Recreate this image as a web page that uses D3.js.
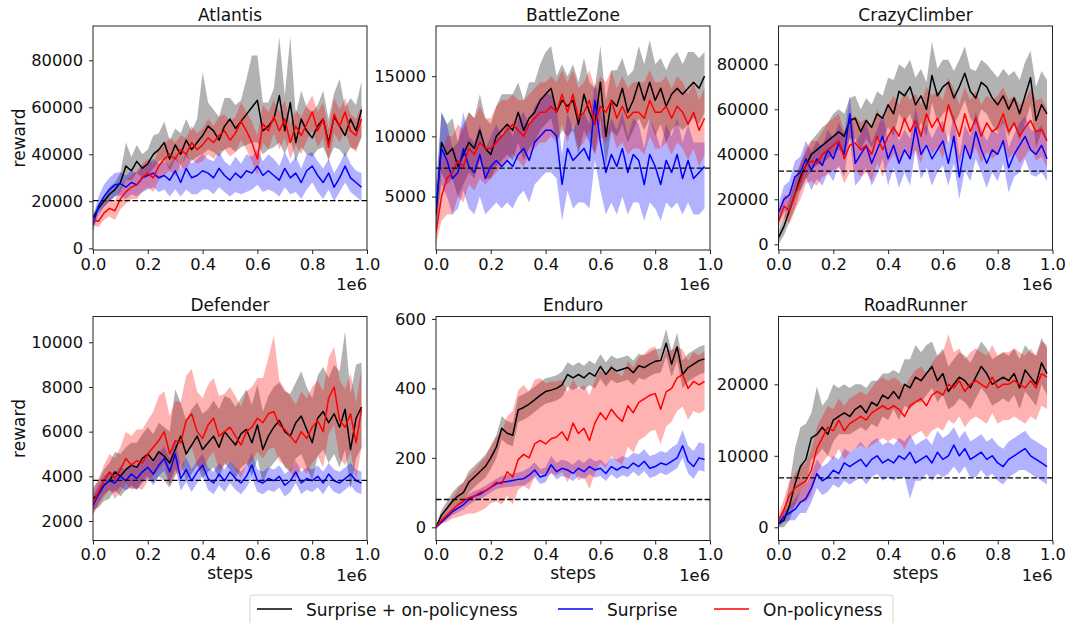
<!DOCTYPE html>
<html><head><meta charset="utf-8">
<script src="https://cdn.jsdelivr.net/npm/d3@7"></script>
<style>body{margin:0;background:#fff}svg{display:block;font-family:"DejaVu Sans",sans-serif}</style>
</head><body><svg id="chart" width="1072" height="623"></svg>
<script>
// ---------- data ----------
const steps = d3.range(50).map(i => i * 20000);
const games = ["Atlantis", "BattleZone", "CrazyClimber", "Defender", "Enduro", "RoadRunner"];
const seriesNames = ["Surprise + on-policyness", "Surprise", "On-policyness"];
const seriesColors = ["#000000", "#0000ff", "#ff0000"];
const baselines = [20300, 7360, 32500, 3820, 80, 6900];
const yTickValues = [
  [0, 20000, 40000, 60000, 80000],
  [5000, 10000, 15000],
  [0, 20000, 40000, 60000, 80000],
  [2000, 4000, 6000, 8000, 10000],
  [0, 200, 400, 600],
  [0, 10000, 20000]
];
const yDomains = [[-720, 94600], [560, 19167], [-2530, 97020], [1127, 11155], [-38, 607], [-1846, 29483]];
const xTickValues = [0, 200000, 400000, 600000, 800000, 1000000];

// Atlantis
const atlSO = [13000,17000,20000,23000,25000,28000,35000,33000,37000,34000,36000,40000,42000,45000,38000,44000,40000,46000,42000,45000,48000,52000,50000,46000,52000,55000,51000,54000,57000,60000,63000,50000,52000,55000,65000,50000,62000,45000,55000,50000,47000,52000,55000,45000,56000,52000,48000,55000,50000,59000];
const atlSOUp = [1500,2000,2500,3000,3000,4000,10000,6000,7000,6000,6000,8000,7000,9000,8000,7000,9000,9000,8000,10000,27000,10000,9000,10000,12000,9000,10000,9000,15000,22000,19000,12000,10000,13000,25000,15000,28000,12000,12000,10000,11000,9000,12000,10000,10000,20000,12000,9000,11000,12000];
const atlSODn = [1500,2000,2500,3000,3000,4000,6000,4000,5000,4000,5000,6000,5000,7000,5000,6000,5000,7000,5000,6000,8000,10000,9000,7000,10000,12000,10000,11000,13000,15000,18000,10000,10000,12000,20000,10000,15000,8000,12000,10000,8000,10000,12000,7000,13000,10000,9000,12000,8000,12000];
const atlS = [10000,18000,22000,25000,27000,27500,26000,28000,27000,30000,31000,32000,30000,31000,29000,33000,28000,34000,30000,31000,33000,32000,30000,34000,31000,29000,32000,30000,33000,32000,35000,31000,33000,31000,29000,34000,30000,32000,28000,33000,35000,31000,28000,32000,26000,30000,35000,30000,28000,26000];
const atlSUp = [3000,4000,5000,5000,5000,5000,5000,5000,5000,5000,5000,6000,6000,6000,6000,7000,6000,7000,6000,7000,7000,6000,7000,7000,6000,6000,7000,6000,7000,7000,7000,6000,7000,7000,6000,7000,6000,7000,6000,7000,6000,6000,6000,6000,6000,6000,6000,6000,5000,6000];
const atlSDn = [3000,4000,4000,5000,5000,5000,5000,5000,5000,6000,6000,6000,6000,6000,7000,8000,6000,9000,7000,8000,8000,7000,7000,8000,7000,7000,8000,7000,9000,7000,8000,7000,8000,7000,7000,8000,7000,8000,7000,8000,7000,7000,7000,7000,6000,6000,7000,6000,6000,6000];
const atlO = [12000,11500,15000,17000,16000,21000,24000,26000,27000,30000,32000,30000,35000,38000,40000,38000,42000,40000,45000,42000,44000,47000,45000,48000,50000,46000,49000,54000,50000,45000,38000,53000,50000,56000,50000,55000,45000,52000,48000,53000,58000,50000,55000,43000,57000,52000,58000,50000,48000,55000];
const atlOUp = [2000,3000,3500,4000,4000,5000,5000,5000,6000,6000,6000,6000,7000,6000,7000,7000,6000,7000,7000,7000,7000,8000,7000,8000,7000,8000,7000,8000,8000,9000,10000,8000,8000,7000,8000,8000,8000,7000,8000,8000,7000,8000,7000,8000,7000,7000,6000,7000,7000,6000];
const atlODn = [2000,2500,3000,3500,4000,4500,5000,5000,6000,6000,6000,6000,6000,7000,7000,7000,7000,7000,7000,6000,7000,7000,7000,7000,8000,7000,8000,8000,8000,8000,7000,8000,8000,7000,8000,8000,7000,8000,8000,7000,8000,7000,8000,7000,8000,7000,8000,7000,7000,7000];

// BattleZone
const bzSO = [3500,9500,8500,9000,7500,8500,9500,9000,10500,9000,8500,10000,10500,11000,10500,12000,10500,11500,12000,13000,13500,14000,12000,13000,12500,13000,11000,13500,12000,11000,14500,10000,13000,12500,14000,12000,13000,14500,13000,14500,13000,14000,12500,13500,14000,13500,14000,14500,14000,15000];
const bzSOUp = [1500,2500,2500,2500,2000,2500,2500,2500,3000,2500,2500,2500,3000,2500,3000,2500,2500,3000,2500,3000,3500,3500,3000,3000,2500,3000,3500,3000,2500,3000,3000,3000,2500,3000,2500,3000,2500,3000,3000,3500,3000,2500,3000,3000,3000,2500,3000,2500,2500,2000];
const bzSODn = [1500,2500,2500,2500,2500,2500,2500,2500,2500,2500,2000,2500,2500,2500,2500,2500,2500,2500,2500,2500,2500,2500,2500,2500,2500,2500,2500,3000,2500,2500,3000,2500,2500,2500,3000,2500,2500,3000,2500,3000,3000,3000,3000,3000,3000,3000,3000,3000,3000,3000];
const bzS = [4000,9000,8000,6500,7000,9000,7500,7000,8500,6500,7500,8000,7500,8000,7500,8500,9000,8000,9500,10000,10500,10500,10000,6000,9000,8000,8500,9000,8000,13000,9500,7000,8500,7500,9000,7000,8500,8000,6000,8500,7500,6000,8000,7000,8500,6500,8000,6500,7000,7500];
const bzSUp = [2000,3000,3000,2500,2500,3000,2500,2500,2500,2500,2500,3000,2500,3000,2500,3000,3000,3000,3000,3000,3000,3000,2500,2500,3000,2500,3000,3000,3000,1500,3000,3000,3000,3000,3000,3000,3000,3000,3000,3000,3000,3000,3000,3000,3000,3000,3000,3000,2500,2000];
const bzSDn = [2000,3000,3000,3000,3000,3500,3500,3500,3500,3000,3500,3500,3500,3500,3500,3500,3500,3500,3500,3500,3500,3500,3500,3000,3500,4000,4000,4500,4000,5000,4000,3500,4000,4000,4000,3500,4000,3500,3000,4000,3500,3000,3500,3000,4000,3000,3500,3000,3500,3500];
const bzO = [2000,5000,6500,7000,8000,7500,9000,8500,9500,9000,9000,9500,10000,10500,11000,10500,10000,11000,11500,12000,12000,12500,12000,13500,12000,13500,11500,12000,13000,11000,12500,12000,13000,11500,12500,11500,12000,12000,11500,13000,12000,12000,12500,11500,12500,12000,11000,12000,10500,11500];
const bzOUp = [1000,3000,3500,3000,3000,3000,3000,3000,3000,2500,2500,3000,3000,2500,2500,2500,3000,2500,2500,2500,2500,2500,2500,2000,2500,2000,2500,2500,2500,3000,2500,2500,2500,2500,2500,2500,2500,2500,3000,2500,2500,2500,2500,2500,2500,2500,2500,2500,2500,2500];
const bzODn = [1000,2000,3000,3500,3000,3000,3000,3000,3000,3000,2500,2500,2500,2500,2500,2500,2500,2500,2500,2500,2500,2500,2500,2500,2500,2500,2500,2500,2500,2500,2500,2500,2500,2500,3000,3000,3000,3000,3000,3000,3000,3000,3000,3000,3000,3000,3000,3000,3000,3000];

// CrazyClimber
const ccSO = [3000,8000,15000,22000,30000,35000,40000,42000,44000,46000,48000,50000,48000,55000,56000,50000,55000,52000,58000,56000,62000,58000,68000,66000,70000,62000,66000,60000,75000,66000,70000,72000,65000,70000,76000,68000,65000,72000,70000,65000,62000,66000,60000,65000,58000,66000,74000,55000,62000,58000];
const ccSOUp = [3000,4000,5000,6000,6000,6000,6000,7000,8000,8000,10000,10000,10000,10000,10000,10000,10000,10000,10000,10000,12000,15000,12000,12000,12000,12000,12000,12000,15000,12000,12000,10000,12000,12000,12000,10000,12000,10000,10000,12000,12000,12000,15000,12000,15000,15000,12000,15000,15000,15000];
const ccSODn = [3000,4000,5000,6000,6000,6000,7000,7000,8000,8000,8000,8000,8000,8000,9000,8000,8000,9000,10000,10000,10000,10000,10000,12000,12000,12000,12000,12000,12000,12000,12000,12000,12000,12000,12000,12000,12000,12000,12000,12000,12000,12000,12000,12000,12000,12000,12000,12000,12000,12000];
const ccS = [14000,20000,22000,30000,32000,38000,33000,38000,35000,42000,38000,45000,40000,58000,36000,40000,44000,36000,42000,48000,38000,44000,36000,42000,38000,52000,40000,44000,38000,42000,46000,36000,48000,30000,44000,38000,50000,42000,36000,42000,40000,46000,34000,40000,44000,48000,42000,40000,44000,38000];
const ccSUp = [4000,6000,6000,7000,7000,8000,8000,8000,8000,9000,9000,9000,9000,8000,9000,9000,10000,9000,9000,10000,9000,9000,10000,9000,9000,9000,10000,9000,9000,10000,9000,9000,10000,9000,9000,10000,9000,9000,10000,9000,9000,10000,9000,9000,10000,9000,9000,10000,9000,9000];
const ccSDn = [4000,6000,6000,7000,8000,8000,9000,9000,9000,10000,10000,10000,10000,10000,10000,11000,10000,10000,11000,10000,12000,10000,11000,10000,12000,10000,11000,10000,12000,10000,11000,10000,12000,10000,11000,10000,12000,10000,11000,10000,12000,10000,11000,10000,12000,10000,11000,10000,12000,10000];
const ccO = [10000,17000,15000,22000,28000,35000,37000,36000,40000,42000,44000,46000,38000,44000,45000,42000,44000,40000,48000,42000,48000,52000,48000,56000,50000,55000,48000,58000,52000,56000,50000,62000,55000,48000,58000,50000,56000,48000,54000,50000,52000,58000,50000,54000,48000,52000,55000,50000,51000,46000];
const ccOUp = [3000,5000,6000,7000,8000,8000,9000,10000,10000,12000,12000,12000,12000,12000,12000,12000,12000,12000,12000,12000,14000,14000,14000,12000,14000,12000,14000,12000,14000,12000,14000,12000,14000,14000,12000,14000,12000,14000,12000,14000,14000,12000,14000,12000,14000,12000,14000,14000,14000,14000];
const ccODn = [3000,5000,6000,7000,8000,8000,9000,10000,10000,11000,11000,12000,11000,12000,12000,12000,12000,12000,12000,12000,12000,12000,12000,13000,12000,13000,12000,13000,12000,13000,12000,13000,12000,12000,13000,12000,13000,12000,13000,12000,12000,13000,12000,13000,12000,13000,12000,13000,12000,12000];

// Defender
const dfSO = [3000,3200,3600,3800,4200,4000,4300,4500,4400,4800,5000,4700,5100,4900,4600,5200,5800,5000,5400,5800,5200,5500,5800,5300,6000,5700,5400,5900,6100,5500,6300,5200,5800,6200,6500,6000,5800,6400,6700,6100,5500,6600,6900,6400,6800,6200,7000,5200,6600,7100];
const dfSOUp = [500,600,700,800,900,1000,1000,1000,1100,1100,1200,1200,1300,1300,1400,2700,1500,1500,1600,1500,1600,1500,1600,1700,1600,1800,1700,1600,1800,1700,1800,1700,1800,1800,1700,1800,1900,1800,2000,1900,2000,1900,2000,2000,2200,2500,3500,2500,2400,2000];
const dfSODn = [500,600,700,800,800,900,900,1000,1000,1000,1000,1000,1100,1100,1100,1200,1200,1200,1300,1300,1300,1300,1400,1400,1400,1400,1500,1500,1500,1500,1500,1500,1500,1600,1600,1600,1600,1600,1700,1700,1700,1700,1700,1800,1800,1800,1800,1800,1800,1800];
const dfS = [2700,3200,3600,3800,3700,4000,3800,4100,3900,4200,4400,4100,4500,4800,4200,5000,3900,4300,3800,4200,4500,3900,3700,4100,3800,4200,3900,3700,4000,4500,3800,3700,3900,3800,4000,3600,3800,4200,3700,3900,3800,4000,3700,4100,3800,3700,3900,4100,3800,3700];
const dfSUp = [400,400,400,400,450,450,450,500,500,500,500,500,550,550,600,600,550,550,500,500,500,500,500,500,500,500,500,500,500,550,500,500,500,500,500,500,500,500,500,500,500,500,500,500,500,500,500,500,500,500];
const dfSDn = [400,400,400,400,450,450,450,500,500,500,500,500,500,550,550,600,550,550,500,500,500,500,500,500,500,500,500,500,500,550,500,500,500,500,500,500,500,500,500,500,500,500,500,500,500,500,500,500,500,500];
const dfO = [2800,3300,3800,4200,3900,4300,4800,4500,4700,4600,5000,5300,5600,6000,5000,5600,5500,6500,6800,6000,5700,6300,6600,5800,6000,6200,5800,5400,6000,6200,6600,6400,6800,6900,6300,6100,5800,5500,6000,5700,6200,6500,6000,7500,8000,6500,6200,6800,5500,7000];
const dfOUp = [500,600,700,800,900,1000,1200,1300,1400,1500,1500,1600,2000,1800,1700,1800,1800,2000,2000,1800,1800,1800,1800,1800,1700,1800,1800,1700,1800,1800,1800,2000,2500,3400,2000,1800,1800,1700,1800,1800,1800,1800,1800,1800,1800,1800,1700,1800,1800,1800];
const dfODn = [500,600,700,800,900,1000,1100,1100,1200,1200,1200,1300,1300,1400,1400,1400,1500,1500,1500,1500,1500,1500,1500,1500,1500,1500,1500,1500,1500,1500,1500,1600,1600,1600,1600,1600,1600,1600,1600,1600,1600,1600,1600,1600,1700,1700,1700,1700,1700,1700];

// Enduro
const enSO = [0,35,55,75,90,100,130,145,160,175,200,230,285,271,265,338,345,355,367,380,391,395,400,410,440,430,440,430,445,435,463,440,460,450,455,460,445,465,460,470,478,480,530,470,520,440,460,470,480,485];
const enSOUp = [5,15,20,25,28,30,32,32,32,34,35,35,35,35,35,38,38,38,38,38,38,38,38,38,35,35,35,35,35,35,35,35,35,35,35,35,35,35,35,35,35,35,40,38,40,40,40,40,40,40];
const enSODn = [5,15,20,25,28,30,30,30,30,32,32,32,32,32,32,35,35,35,35,35,35,35,35,35,35,35,35,35,35,35,35,35,35,35,35,35,35,35,35,35,35,35,38,38,40,40,40,40,40,40];
const enS = [0,15,30,45,55,65,80,90,95,105,115,125,130,132,135,138,140,150,165,145,150,180,160,170,165,155,170,160,175,165,170,155,175,165,175,170,185,175,190,170,175,185,180,190,200,235,190,175,200,195];
const enSUp = [3,5,8,10,12,14,15,15,15,15,15,15,18,18,20,20,22,22,22,22,22,25,25,25,25,25,25,25,25,25,25,25,25,30,30,30,30,35,35,35,35,35,35,40,40,45,45,45,45,45];
const enSDn = [3,5,8,10,12,14,15,15,15,15,15,15,16,16,18,18,20,20,20,20,20,22,22,22,22,22,22,22,22,22,22,22,22,25,25,25,25,28,28,28,28,28,30,30,30,35,35,35,35,35];
const enO = [0,20,35,50,65,75,85,90,100,105,115,130,125,160,145,195,210,200,240,250,240,255,260,275,250,300,270,285,250,300,330,310,340,320,305,350,330,360,370,380,385,340,390,400,430,440,400,420,410,420];
const enOUp = [5,15,25,35,45,55,65,75,85,95,117,130,150,160,190,200,200,190,185,180,175,165,160,150,140,125,130,125,130,125,124,125,130,125,130,128,130,130,130,135,136,130,120,110,90,72,80,85,85,87];
const enODn = [5,10,20,25,35,40,45,50,54,50,46,55,60,70,80,87,90,92,94,94,94,100,110,115,120,135,135,140,140,145,145,140,135,130,125,117,115,110,110,105,104,100,100,95,95,92,90,85,82,82];

// RoadRunner
const rrSO = [500,1000,3000,6000,8500,9500,12500,13000,14000,13000,15000,15500,16000,15500,16500,17000,16000,17500,17000,18500,18000,19000,18000,20000,19500,21000,20500,21500,22500,20500,21500,19000,20000,21000,20500,19500,21000,22500,21500,20000,20500,21000,20500,21500,19500,22000,21000,20000,23000,21500];
const rrSOUp = [500,1500,3000,5000,5500,5000,3500,6700,3000,5000,5000,4000,4000,4000,3500,3000,3500,3000,3500,3000,3500,3000,3500,3500,4000,4500,4000,4000,3500,3500,3500,3500,3500,3500,3500,3500,3500,3500,3500,3500,3500,3500,3500,3500,4000,3500,3500,4000,3500,3500];
const rrSODn = [500,1000,2000,3000,3500,3500,3000,3000,3000,3000,3000,2500,3000,2500,3000,3000,2500,3000,3000,3000,3000,2500,3000,3000,3000,3500,3000,3000,3000,3000,3000,2500,3000,3000,3000,3000,3000,3000,3000,3000,3000,3000,3000,3000,3000,3000,3000,3000,3000,3000];
const rrS = [500,1500,2000,2500,3500,4000,5500,7500,6500,7000,8000,7500,9000,8500,9000,9500,8500,9500,10000,9000,9500,9000,10000,9500,10500,9000,9500,10000,9000,10500,9500,10000,11500,10000,11000,9500,10000,10500,9500,10000,9000,8500,9500,10000,10500,11000,10000,9500,9000,8500];
const rrSUp = [500,800,1000,1500,1500,2000,2000,2000,2000,2000,2000,2000,2000,2000,2000,2500,2500,2500,2500,2500,2500,2500,2500,2500,2500,2500,2500,2500,2500,3000,3000,3000,2500,2500,2500,2500,2500,2500,2500,2500,2500,2500,2500,2500,2500,2500,2500,2500,2500,2500];
const rrSDn = [500,800,1000,1500,1500,2000,2000,2000,2000,2000,2000,2000,2500,2500,2500,2500,2500,2500,2500,2500,2500,2500,3000,2500,6500,2500,3000,2500,2500,3000,2500,2500,3000,2500,2500,2500,3000,2500,2500,2500,2500,2500,2500,2500,2500,3000,2500,2500,2500,2500];
const rrO = [1000,2500,4500,5500,6000,6500,8000,11000,12500,14000,13500,15000,13500,14500,15000,15500,15000,16000,16500,17000,16500,17000,16500,15500,17000,17500,18000,17000,18500,19000,18500,20000,19500,20500,19000,20000,20500,20000,19500,21000,19500,20000,20000,20500,20000,19500,20500,19500,21500,21000];
const rrOUp = [800,1500,2000,2000,2500,2500,3000,3000,3000,3000,3000,3000,3500,3500,3500,3500,3500,3500,4000,4000,4000,4000,4000,4000,4000,4500,4500,4500,4500,5000,6000,7000,5000,4500,4500,4500,4500,4500,4500,4500,4500,4500,4500,4500,4500,4500,4500,4500,4500,4500];
const rrODn = [800,1500,2000,2500,2500,3000,3500,3500,3500,4000,4000,4000,4000,4000,4000,4000,4000,4500,4500,4500,4500,4500,4500,4500,4500,4500,4500,4500,5000,5000,5000,5000,5000,5000,5000,5000,5000,5000,5000,5000,5000,5000,5000,5000,5000,5000,5000,4500,4500,4500];

// ---------- build panels from the arrays ----------
const panelSeries = [
  [[atlSO, atlSOUp, atlSODn], [atlS, atlSUp, atlSDn], [atlO, atlOUp, atlODn]],
  [[bzSO, bzSOUp, bzSODn], [bzS, bzSUp, bzSDn], [bzO, bzOUp, bzODn]],
  [[ccSO, ccSOUp, ccSODn], [ccS, ccSUp, ccSDn], [ccO, ccOUp, ccODn]],
  [[dfSO, dfSOUp, dfSODn], [dfS, dfSUp, dfSDn], [dfO, dfOUp, dfODn]],
  [[enSO, enSOUp, enSODn], [enS, enSUp, enSDn], [enO, enOUp, enODn]],
  [[rrSO, rrSOUp, rrSODn], [rrS, rrSUp, rrSDn], [rrO, rrOUp, rrODn]]
];

const svg = d3.select("#chart");
svg.append("rect").attr("width", 1072).attr("height", 623).attr("fill", "#fff");

const colLeft = [93, 436, 778.5];
const rowTop = [26, 316.5];
const pw = 274, ph = 224;
const tickFont = "16.3px", labelFont = "17px";

games.forEach((game, gi) => {
  const col = gi % 3, row = Math.floor(gi / 3);
  const x0 = colLeft[col], y0 = rowTop[row];
  const x = d3.scaleLinear().domain([0, 1000000]).range([x0, x0 + pw]);
  const y = d3.scaleLinear().domain(yDomains[gi]).range([y0 + ph, y0]);
  const g = svg.append("g");

  const clipId = "clip" + gi;
  svg.append("clipPath").attr("id", clipId)
    .append("rect").attr("x", x0).attr("y", y0).attr("width", pw).attr("height", ph);
  const plot = g.append("g").attr("clip-path", `url(#${clipId})`);

  const rows = panelSeries[gi].map(([m, up, dn]) =>
    steps.map((s, i) => ({ s, m: m[i], hi: m[i] + up[i], lo: m[i] - dn[i] })));

  const area = d3.area().x(d => x(d.s)).y0(d => y(d.lo)).y1(d => y(d.hi));
  const line = d3.line().x(d => x(d.s)).y(d => y(d.m));

  rows.forEach((r, si) => {
    plot.append("path").attr("d", area(r))
      .attr("fill", seriesColors[si]).attr("fill-opacity", 0.3).attr("stroke", "none");
  });
  rows.forEach((r, si) => {
    plot.append("path").attr("d", line(r))
      .attr("fill", "none").attr("stroke", seriesColors[si]).attr("stroke-width", 1.5)
      .attr("stroke-linejoin", "round");
  });
  plot.append("line")
    .attr("x1", x0).attr("x2", x0 + pw)
    .attr("y1", y(baselines[gi])).attr("y2", y(baselines[gi]))
    .attr("stroke", "#000").attr("stroke-width", 1.3).attr("stroke-dasharray", "5.5,2.4");

  // axes
  const xa = g.append("g").attr("transform", `translate(0,${y0 + ph})`)
    .call(d3.axisBottom(x).tickValues(xTickValues).tickFormat(d => (d / 1e6).toFixed(1))
      .tickSize(4).tickPadding(4).tickSizeOuter(0));
  const ya = g.append("g").attr("transform", `translate(${x0},0)`)
    .call(d3.axisLeft(y).tickValues(yTickValues[gi]).tickFormat(d3.format("d"))
      .tickSize(4).tickPadding(6).tickSizeOuter(0));
  [xa, ya].forEach(a => {
    a.select(".domain").remove();
    a.selectAll("line").attr("stroke", "#222").attr("stroke-width", 1);
    a.selectAll("text").attr("fill", "#111").style("font-size", tickFont)
      .style("font-family", '"DejaVu Sans", sans-serif');
  });

  g.append("rect").attr("x", x0).attr("y", y0).attr("width", pw).attr("height", ph)
    .attr("fill", "none").attr("stroke", "#222").attr("stroke-width", 1);

  g.append("text").attr("x", x0 + pw / 2).attr("y", y0 - 5.5)
    .attr("text-anchor", "middle").style("font-size", labelFont).attr("fill", "#111").text(game);

  g.append("text").attr("x", x0 + pw).attr("y", y0 + ph + 40)
    .attr("text-anchor", "end").style("font-size", tickFont).attr("fill", "#111").text("1e6");

  if (row === 1) {
    g.append("text").attr("x", x0 + pw / 2).attr("y", y0 + ph + 38.5)
      .attr("text-anchor", "middle").style("font-size", labelFont).attr("fill", "#111").text("steps");
  }
  if (col === 0) {
    g.append("text").attr("transform", `translate(25,${y0 + ph / 2}) rotate(-90)`)
      .attr("text-anchor", "middle").style("font-size", labelFont).attr("fill", "#111").text("reward");
  }
});

// legend
const leg = svg.append("g");
leg.append("rect").attr("x", 250).attr("y", 595).attr("width", 643).attr("height", 40)
  .attr("rx", 3).attr("fill", "#fff").attr("stroke", "#d4d4d4").attr("stroke-width", 1);
const legX = [257, 558, 714];
seriesNames.forEach((name, i) => {
  leg.append("line").attr("x1", legX[i]).attr("x2", legX[i] + 35).attr("y1", 609).attr("y2", 609)
    .attr("stroke", seriesColors[i]).attr("stroke-width", 1.5);
  leg.append("text").attr("x", legX[i] + 49).attr("y", 615.5)
    .style("font-size", labelFont).attr("fill", "#111").text(name);
});
</script>
</body></html>
